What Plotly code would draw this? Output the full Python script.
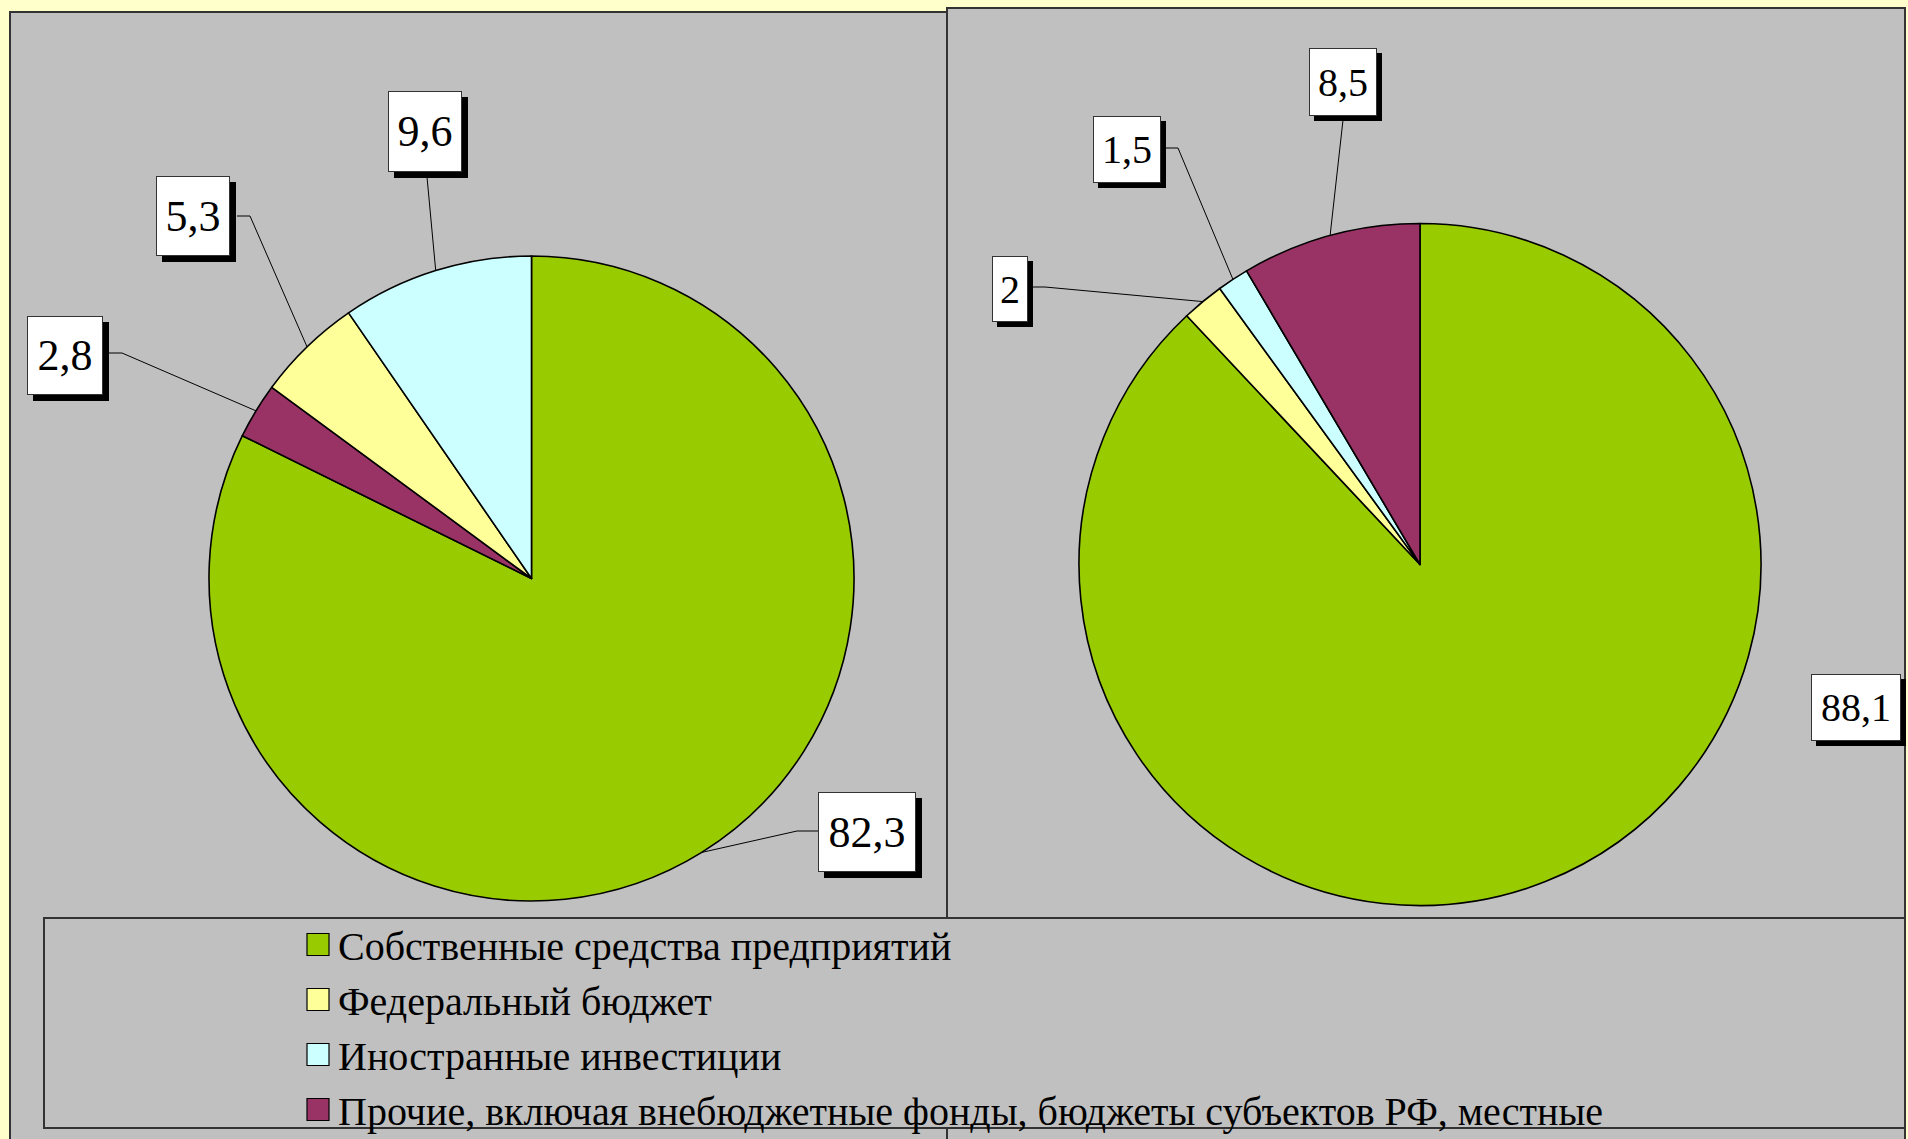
import math
import plotly.graph_objects as go

W, H = 1908, 1139

# ---------------- data ----------------
categories = [
    "Собственные средства предприятий",
    "Федеральный бюджет",
    "Иностранные инвестиции",
    "Прочие, включая внебюджетные фонды, бюджеты субъектов РФ, местные",
]
colors = {
    categories[0]: "#99CC00",
    categories[1]: "#FFFF99",
    categories[2]: "#CCFFFF",
    categories[3]: "#993366",
}

# left pie (clockwise from 12 o'clock)
left_labels = [categories[0], categories[3], categories[1], categories[2]]
left_values = [82.3, 2.8, 5.3, 9.6]

# right pie (clockwise from 12 o'clock)
right_labels = [categories[0], categories[1], categories[2], categories[3]]
right_values = [88.1, 2.0, 1.5, 8.5]


def fx(x):
    return x / W


def fy(y):
    return 1 - y / H


# pie geometry (pixels)
LEFT = dict(cx=531.5, cy=578.5, r=322.5)
RIGHT = dict(cx=1420.0, cy=564.5, r=341.0)


def domain(g):
    r = g["r"]
    return dict(x=[fx(g["cx"] - r), fx(g["cx"] + r)],
                y=[fy(g["cy"] + r), fy(g["cy"] - r)])


def mid_points(values, g):
    tot = sum(values)
    pts, acc = [], 0.0
    for v in values:
        a = math.radians((acc + v / 2) / tot * 360)
        pts.append((g["cx"] + g["r"] * math.sin(a), g["cy"] - g["r"] * math.cos(a)))
        acc += v
    return pts


fig = go.Figure()

# right first so the legend order matches the reference
fig.add_trace(go.Pie(
    labels=right_labels, values=right_values, sort=False, direction="clockwise",
    rotation=0, textinfo="none", hoverinfo="label+value",
    marker=dict(colors=[colors[c] for c in right_labels], line=dict(color="black", width=1.6)),
    domain=domain(RIGHT), showlegend=True,
))
fig.add_trace(go.Pie(
    labels=left_labels, values=left_values, sort=False, direction="clockwise",
    rotation=0, textinfo="none", hoverinfo="label+value",
    marker=dict(colors=[colors[c] for c in left_labels], line=dict(color="black", width=1.6)),
    domain=domain(LEFT), showlegend=True,
))

shapes = []
# panels
shapes.append(dict(type="rect", xref="paper", yref="paper", x0=fx(10), x1=fx(947), y0=fy(1150), y1=fy(12),
                   fillcolor="#C0C0C0", line=dict(color="#333333", width=2), layer="below"))
shapes.append(dict(type="rect", xref="paper", yref="paper", x0=fx(947), x1=fx(1905), y0=fy(1150), y1=fy(8),
                   fillcolor="#C0C0C0", line=dict(color="#333333", width=2), layer="below"))
# legend frame
shapes.append(dict(type="rect", xref="paper", yref="paper", x0=fx(44), x1=fx(1905), y0=fy(1128), y1=fy(918),
                   fillcolor="#C0C0C0", line=dict(color="#333333", width=2), layer="below"))

annotations = []
shadows = []

# label geometry: (center x, center y, width, height, leader start, elbow or None)
left_geom = [
    (867, 832, 98, 80, (818, 831), (797, 831)),
    (65, 355.5, 76, 79, (108, 353), (122, 353)),
    (193, 216, 74, 80, (237, 216), (250, 216)),
    (425, 131.5, 74, 81, (427, 177), None),
]
right_geom = [
    (1856, 707.5, 90, 67, None, None),
    (1010, 289, 36, 66, (1033, 287), (1045, 287)),
    (1127, 149.5, 68, 67, (1165, 148), (1178, 148)),
    (1343, 82, 68, 68, (1343, 120), None),
]


def add_labels(values, g, geom, fsize, sh):
    pts = mid_points(values, g)
    for v, p, (cx, cy, w, h, start, elbow) in zip(values, pts, geom):
        txt = f"{v:g}".replace(".", ",")
        if start is not None:
            path_pts = [start] + ([elbow] if elbow else []) + [p]
            d = "M " + " L ".join(f"{fx(a)},{fy(b)}" for a, b in path_pts)
            shapes.append(dict(type="path", xref="paper", yref="paper", path=d,
                               line=dict(color="black", width=1), layer="above"))
        shadows.append(dict(type="rect", xref="paper", yref="paper",
                            x0=fx(cx - w / 2 + sh), x1=fx(cx + w / 2 + sh),
                            y0=fy(cy + h / 2 + sh), y1=fy(cy - h / 2 + sh),
                            fillcolor="black", line=dict(width=0), layer="above"))
        annotations.append(dict(xref="paper", yref="paper", x=fx(cx), y=fy(cy),
                                xanchor="center", yanchor="middle", showarrow=False,
                                width=w - 2, height=h - 2, borderpad=0, text=txt,
                                bgcolor="white", bordercolor="#333333", borderwidth=1,
                                font=dict(family="Liberation Serif", size=fsize, color="black")))


add_labels(left_values, LEFT, left_geom, 44, 6)
add_labels(right_values, RIGHT, right_geom, 40, 5)

fig.update_layout(
    width=W, height=H, autosize=False,
    margin=dict(l=0, r=0, t=0, b=0, pad=0, autoexpand=False),
    paper_bgcolor="#FFFFCC", plot_bgcolor="#C0C0C0",
    shapes=shapes + shadows, annotations=annotations,
    legend=dict(x=fx(298), y=fy(912), xanchor="left", yanchor="top",
                bgcolor="rgba(0,0,0,0)", borderwidth=0,
                font=dict(family="Liberation Serif", size=40, color="black"),
                traceorder="normal"),
)

fig.write_html(
    "out.html",
    config={"displayModeBar": False},
    post_script="document.body.style.margin='0';document.body.style.overflow='hidden';"
                "document.body.style.background='#FFFFCC';"
                "document.querySelectorAll('path.legendpie').forEach(function(p){"
                "p.setAttribute('d','M11,11H-11V-11H11Z');p.style.strokeWidth='1.2px';});",
)
